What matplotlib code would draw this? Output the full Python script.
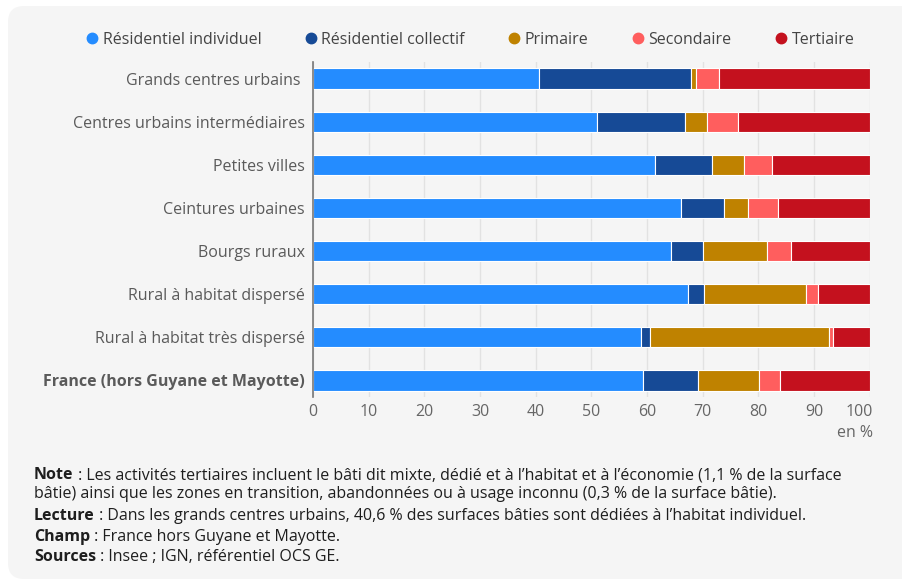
import matplotlib
matplotlib.use("Agg")
import matplotlib.pyplot as plt
import matplotlib.patches as mpatches
import matplotlib.transforms as mtransforms
from matplotlib.lines import Line2D
import numpy as np

plt.rcParams['font.family'] = ['Open Sans', 'DejaVu Sans']

categories = ["Grands centres urbains ", "Centres urbains intermédiaires", "Petites villes",
              "Ceintures urbaines", "Bourgs ruraux", "Rural à habitat dispersé",
              "Rural à habitat très dispersé", "France (hors Guyane et Mayotte)"]
series_names = ["Résidentiel individuel", "Résidentiel collectif", "Primaire", "Secondaire", "Tertiaire"]
res_individuel = [40.6, 51.1, 61.5, 66.1, 64.3, 67.4, 59.0, 59.2]
res_collectif = [27.4, 15.8, 10.2, 7.7, 5.7, 2.8, 1.5, 9.9]
primaire = [0.9, 3.9, 5.8, 4.3, 11.6, 18.3, 32.2, 11.0]
secondaire = [4.1, 5.6, 5.0, 5.5, 4.3, 2.2, 0.8, 3.8]
tertiaire = [27.0, 23.6, 17.5, 16.4, 14.1, 9.3, 6.5, 16.1]
colors = ["#248cff", "#164a96", "#bf8200", "#ff5e5e", "#c4111e"]
xticks = [0, 10, 20, 30, 40, 50, 60, 70, 80, 90, 100]

FS = 11.5
W, H = 903, 583
fig = plt.figure(figsize=(W / 100, H / 100), dpi=100)
fig.patch.set_facecolor("white")

card = mpatches.FancyBboxPatch((8, 4), 920, 573, boxstyle="round,pad=0,rounding_size=16",
                               transform=mtransforms.IdentityTransform(),
                               facecolor="#f5f5f5", edgecolor="none", zorder=-5)
fig.patches.append(card)

ax = fig.add_axes([313 / W, 1 - 397 / H, 556.6 / W, 335 / H])
ax.set_zorder(2)
ax.set_facecolor("none")

y = np.arange(len(categories))
data = [res_individuel, res_collectif, primaire, secondaire, tertiaire]
left = np.zeros(len(categories))
for vals, col, name in zip(data, colors, series_names):
    ax.barh(y, vals, left=left, height=0.473, color=col, edgecolor="white",
            linewidth=0.8, label=name, zorder=3)
    left += np.array(vals)

ax.set_ylim(len(categories) - 1 + 0.385, -0.385)
ax.set_xlim(0, 100)
ax.set_xticks(xticks)
ax.set_xticklabels([str(t) for t in xticks])
ax.set_yticks(y)
ax.set_yticklabels(categories)
ax.tick_params(axis="x", length=0, pad=5, labelsize=FS, labelcolor="#666666")
ax.tick_params(axis="y", length=0, pad=6, labelsize=FS, labelcolor="#5a5a5a")
for lab in ax.get_yticklabels():
    if lab.get_text().startswith("France"):
        lab.set_fontweight("bold")
last = ax.get_xticklabels()[-1]
last.set_transform(last.get_transform() + mtransforms.ScaledTranslation(-10 / 100, 0, fig.dpi_scale_trans))

ax.grid(axis="x", color="#e2e2e2", linewidth=1, zorder=0)
ax.set_axisbelow(True)
for s in ["top", "right", "bottom"]:
    ax.spines[s].set_visible(False)
ax.spines["left"].set_color("#777777")
ax.spines["left"].set_linewidth(1.2)
ax.spines["left"].set_zorder(4)

fig.text(873 / W, 1 - 433 / H, "en %", ha="right", va="center", fontsize=FS, color="#666666")

handles = [Line2D([], [], marker="o", linestyle="none", markersize=7.5, color=c) for c in colors]
fig.legend(handles, series_names, loc="center", bbox_to_anchor=(471 / W, 1 - 40 / H), ncol=5,
           frameon=False, fontsize=FS, handlelength=0.6, handletextpad=0.35,
           columnspacing=2.8, labelcolor="#444444")

renderer = fig.canvas.get_renderer()


def rich_line(x_px, y_px, parts, size=FS):
    x = x_px / W
    for text, weight in parts:
        t = fig.text(x, 1 - (y_px + 4) / H, text, fontsize=size, fontweight=weight,
                     color="#1e1e1e", ha="left", va="baseline")
        x += t.get_window_extent(renderer).width / W


rich_line(34, 475, [("Note", "bold"), (" : Les activités tertiaires incluent le bâti dit mixte, dédié et à l’habitat et à l’économie (1,1 % de la surface", "normal")])
rich_line(34, 494, [("bâtie) ainsi que les zones en transition, abandonnées ou à usage inconnu (0,3 % de la surface bâtie).", "normal")])
rich_line(34, 516, [("Lecture", "bold"), (" : Dans les grands centres urbains, 40,6 % des surfaces bâties sont dédiées à l’habitat individuel.", "normal")])
rich_line(34, 537, [("Champ", "bold"), (" : France hors Guyane et Mayotte.", "normal")])
rich_line(34, 557, [("Sources", "bold"), (" : Insee ; IGN, référentiel OCS GE.", "normal")])

fig.savefig("out.png", dpi=100, facecolor="white")
